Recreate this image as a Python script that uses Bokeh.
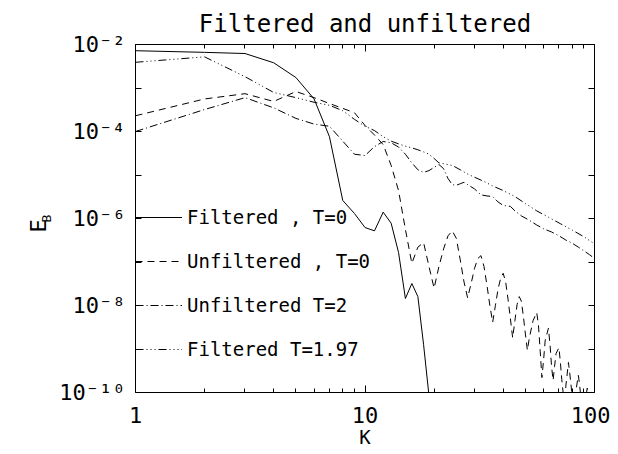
import math
from bokeh.plotting import figure
from bokeh.models import (LogAxis, FixedTicker, CustomJSTickFormatter, Legend,
                          LegendItem, Title, Range1d)
from bokeh.embed import file_html
from bokeh.resources import INLINE

FONT = "DejaVu Sans Mono"

# ---------------- data ----------------
k_filt0 = [1, 2, 3, 4, 5, 6, 7, 8, 9, 10, 11, 12, 13, 14, 15, 16, 17, 18, 19, 20]
e_filt0 = [7.2e-3, 6.6e-3, 6.2e-3, 3.8e-3, 1.74e-3, 5.6e-4, 7.6e-5, 2.6e-6, 1.3e-6,
           6.2e-7, 5.2e-7, 1.4e-6, 7.8e-7, 1.66e-7, 1.45e-8, 3.2e-8, 1.6e-8,
           1.26e-9, 8.5e-11, 3.2e-12]

k_unf0 = [1, 2, 3, 4, 5, 6, 7, 8, 9, 10, 11, 12, 13, 14, 15, 16, 17, 18, 19, 20,
          21, 22, 23, 24, 25, 26, 27, 28, 29, 30, 31, 32, 33, 34, 35, 36, 37, 38,
          39, 40, 41, 42, 43, 44, 45, 46, 47, 48, 49, 50, 51, 52, 54, 56, 57, 58,
          59, 60, 61, 63, 64, 65, 66, 67, 68, 70, 71, 72, 74, 75, 77, 78, 80, 82,
          83, 85, 86, 88, 90, 92, 93, 95, 97, 100]
e_unf0 = [2.3e-4, 5.6e-4, 7.4e-4, 4.9e-4, 8.3e-4, 6.0e-4, 4.4e-4, 3.4e-4, 2.7e-4,
          1.38e-4, 8.3e-5, 5.0e-5, 1.66e-5, 4.4e-6, 5.6e-7, 9.3e-8, 2.2e-7, 2.8e-7,
          7.9e-8, 2.5e-8, 7.9e-8, 2.0e-7, 4.0e-7, 5.2e-7, 3.5e-7, 1.12e-7, 3.5e-8,
          1.5e-8, 3.2e-8, 7.1e-8, 1.2e-7, 1.4e-7, 7.9e-8, 2.9e-8, 1.0e-8, 4.1e-9,
          1.0e-8, 2.4e-8, 4.2e-8, 5.5e-8, 3.5e-8, 1.4e-8, 5.0e-9, 1.8e-9, 4.5e-9,
          1.05e-8, 1.6e-8, 1.26e-8, 5.6e-9, 2.2e-9, 9.3e-10, 1.8e-9, 4.5e-9, 6.9e-9,
          3.5e-9, 8.9e-10, 2.2e-10, 5.6e-10, 1.6e-9, 3.0e-9, 1.26e-9, 4.0e-10,
          1.9e-10, 4.0e-10, 7.9e-10, 1.07e-9, 5.0e-10, 2.0e-10, 5.0e-11, 1.4e-10,
          4.9e-10, 2.8e-10, 8.0e-11, 4.0e-11, 1.1e-10, 2.5e-10, 1.6e-10, 5.0e-11,
          3.2e-11, 8.9e-11, 1.26e-10, 6.3e-11, 2.5e-11, 1.26e-11]

k_unf2 = [1, 2, 3, 4, 5, 6, 7, 8, 9, 10, 11, 12, 13, 14, 15, 16, 17, 18, 19, 20,
          21, 22, 23, 24, 25, 26, 27, 28, 30, 32, 34, 36, 38, 40, 43, 45, 48, 52,
          56, 60, 65, 70, 75, 80, 85, 90, 95, 100]
e_unf2 = [1.0e-4, 3.2e-4, 6.0e-4, 3.5e-4, 2.0e-4, 1.48e-4, 1.32e-4, 6.0e-5, 3.0e-5,
          2.8e-5, 4.5e-5, 5.9e-5, 5.5e-5, 4.4e-5, 3.0e-5, 1.9e-5, 1.32e-5, 1.15e-5,
          1.26e-5, 1.5e-5, 1.74e-5, 1.4e-5, 8.3e-6, 6.0e-6, 5.8e-6, 6.3e-6, 6.8e-6,
          6.0e-6, 4.8e-6, 3.5e-6, 3.3e-6, 3.2e-6, 2.4e-6, 2.0e-6, 1.9e-6, 1.5e-6,
          1.15e-6, 9.1e-7, 7.1e-7, 5.8e-7, 4.9e-7, 4.0e-7, 3.2e-7, 2.7e-7, 2.2e-7,
          1.8e-7, 1.48e-7, 1.2e-7]

k_filt197 = [1, 2, 3, 4, 5, 6, 7, 8, 9, 10, 11, 12, 13, 14, 15, 16, 17, 18, 19, 20,
             21, 22, 24, 26, 28, 30, 33, 36, 40, 45, 50, 56, 63, 71, 80, 90, 100]
e_filt197 = [3.9e-3, 5.2e-3, 1.82e-3, 7.9e-4, 6.0e-4, 4.7e-4, 4.0e-4, 3.0e-4, 1.9e-4,
             1.32e-4, 1.05e-4, 7.6e-5, 6.0e-5, 5.2e-5, 4.6e-5, 4.2e-5, 3.8e-5, 3.4e-5,
             3.0e-5, 2.4e-5, 1.9e-5, 1.82e-5, 1.66e-5, 1.32e-5, 1.05e-5, 8.9e-6,
             7.1e-6, 5.6e-6, 4.4e-6, 3.2e-6, 2.2e-6, 1.5e-6, 1.07e-6, 7.6e-7, 5.4e-7,
             3.8e-7, 2.6e-7]

series_labels = ["Filtered , T=0", "Unfiltered , T=0", "Unfiltered T=2", "Filtered T=1.97"]

x_major_ticks = [1, 10, 100]
x_minor_ticks = [2, 3, 4, 5, 6, 7, 8, 9, 20, 30, 40, 50, 60, 70, 80, 90]
y_major_ticks = [1e-10, 1e-8, 1e-6, 1e-4, 1e-2]
y_minor_ticks = [1e-9, 1e-7, 1e-5, 1e-3]

# ---------------- figure ----------------
p = figure(width=610, height=454, x_axis_type="log", y_axis_type="log",
           x_range=Range1d(1, 100), y_range=Range1d(1e-10, 1e-2),
           output_backend="svg", toolbar_location=None,
           min_border_left=135, min_border_right=16, min_border_top=44,
           min_border_bottom=62, title="Filtered and unfiltered")

p.title.align = "center"
p.title.text_font = FONT
p.title.text_font_size = "24px"
p.title.text_font_style = "normal"
p.title.text_color = "black"
p.title.standoff = 10
p.title.vertical_align = "top"

p.grid.visible = False
p.outline_line_color = "black"
p.outline_line_width = 1
p.background_fill_color = "white"
p.border_fill_color = "white"

sup_js = """
const sup = {"-":"\u207b","0":"\u2070","1":"\u00b9","2":"\u00b2","3":"\u00b3","4":"\u2074",
             "5":"\u2075","6":"\u2076","7":"\u2077","8":"\u2078","9":"\u2079"};
const e = Math.round(Math.log10(tick));
return "10" + String(e).split("").map(c => sup[c]).join("");
"""

# bottom x axis
xa = p.xaxis[0]
xa.ticker = FixedTicker(ticks=x_major_ticks, minor_ticks=x_minor_ticks)
xa.formatter = CustomJSTickFormatter(code="return tick.toFixed(0);")
xa.axis_label = "K"
xa.axis_label_text_font = FONT
xa.axis_label_text_font_size = "19px"
xa.axis_label_text_font_style = "normal"
xa.axis_label_standoff = 0
xa.major_label_text_font = FONT
xa.major_label_text_font_size = "22px"
xa.major_label_standoff = 14

# left y axis (its label is the subscript "B" of E_B)
ya = p.yaxis[0]
ya.ticker = FixedTicker(ticks=y_major_ticks, minor_ticks=y_minor_ticks)
ya.formatter = CustomJSTickFormatter(code=sup_js)
ya.major_label_text_font = FONT
ya.major_label_text_font_size = "22px"
ya.major_label_standoff = 10
ya.axis_label = "B"
ya.axis_label_text_font = FONT
ya.axis_label_text_font_size = "13px"
ya.axis_label_text_font_style = "normal"
ya.axis_label_text_align = "left"
ya.axis_label_standoff = 2

for ax in (xa, ya):
    ax.axis_line_color = None
    ax.major_tick_out = 0
    ax.minor_tick_out = 0
    ax.major_tick_line_color = "black"
    ax.minor_tick_line_color = "black"
    ax.major_label_text_color = "black"
    ax.axis_label_text_color = "black"

xa.major_tick_in = 7
xa.minor_tick_in = 4
ya.major_tick_in = 6
ya.minor_tick_in = 6

blank = CustomJSTickFormatter(code="return '';")
top = LogAxis(ticker=FixedTicker(ticks=x_major_ticks, minor_ticks=x_minor_ticks),
              formatter=blank, axis_line_color=None, major_tick_in=7, major_tick_out=0,
              minor_tick_in=4, minor_tick_out=0, major_label_standoff=0,
              major_label_text_font_size="1px")
right = LogAxis(ticker=FixedTicker(ticks=y_major_ticks, minor_ticks=y_minor_ticks),
                formatter=blank, axis_line_color=None, major_tick_in=6, major_tick_out=0,
                minor_tick_in=6, minor_tick_out=0, major_label_standoff=0,
                major_label_text_font_size="1px")
p.add_layout(top, "above")
p.add_layout(right, "right")

# main letter "E" of the y-axis label E_B (sits just below the subscript)
e_title = Title(text="E", text_font=FONT, text_font_size="22px", text_font_style="normal",
                text_color="black", align="left", offset=160, vertical_align="bottom",
                standoff=-29)
p.add_layout(e_title, "left")

# ---------------- curves ----------------
r1 = p.line(k_filt0, e_filt0, line_color="black", line_width=1)
r2 = p.line(k_unf0, e_unf0, line_color="black", line_width=1, line_dash="7 5")
r3 = p.line(k_unf2, e_unf2, line_color="black", line_width=1, line_dash="8 3 1 3")
r4 = p.line(k_filt197, e_filt197, line_color="black", line_width=1,
            line_dash="8 3 1 3 1 3 1 3")

legend = Legend(items=[LegendItem(label=series_labels[0], renderers=[r1]),
                       LegendItem(label=series_labels[1], renderers=[r2]),
                       LegendItem(label=series_labels[2], renderers=[r3]),
                       LegendItem(label=series_labels[3], renderers=[r4])],
                location=(0, 31), orientation="vertical", padding=0, margin=0,
                spacing=20, glyph_width=47, glyph_height=24, label_height=24,
                label_standoff=5, label_text_font=FONT, label_text_font_size="19px",
                label_text_baseline="alphabetic", label_text_color="black",
                border_line_color=None, background_fill_alpha=0)
p.add_layout(legend)

open("out.html", "w").write(file_html(p, INLINE))
